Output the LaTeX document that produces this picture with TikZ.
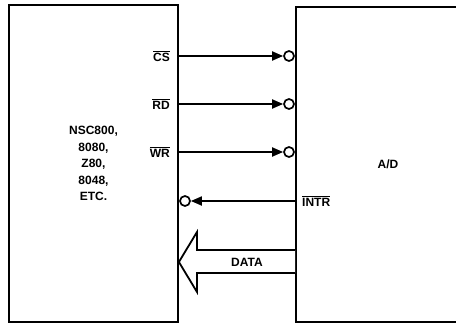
\documentclass[tikz,border=0pt]{standalone}
\usepackage{fontspec}
\setmainfont{Liberation Sans}
\usetikzlibrary{arrows.meta, positioning, calc}
\newcommand{\sigbar}[1]{$\overline{\hbox{#1}}$}
\tikzset{
    x=1pt, y=-1pt,
    box/.style={ % the two chips
        draw,
        line width=1.8pt,
        font=\bfseries\fontsize{12}{16.5}\selectfont,
        align=center
    },
    pin/.style={ % inverting bubble at a pin
        circle, draw, line width=1.7pt,
        fill=white, inner sep=0pt, minimum size=10pt
    },
    sig/.style={ % signal line
        line width=1.8pt,
        -{Triangle[length=11pt, width=9pt]}
    },
    lbl/.style={
        inner sep=1pt,
        font=\bfseries\fontsize{12}{14}\selectfont
    }
}
\begin{document}
\begin{tikzpicture}
    \useasboundingbox (0,0) rectangle (456,324);
    \node[box, minimum width=169pt, minimum height=317pt]   (cpu) at (93.5,163.5)
        {NSC800,\\8080,\\Z80,\\8048,\\ETC.};
    \node[box, minimum width=184pt, minimum height=315pt]   (adc) at (388,164.5) {A/D};
    % bubbles on the pins
    \node[pin] (cs)   at (289,56)  {};
    \node[pin] (rd)   at (289,104) {};
    \node[pin] (wr)   at (289,152) {};
    \node[pin] (intr) at (185,201) {};
    % signal names
    \node[lbl, anchor=east] (cslbl)   at (171,56)  {\sigbar{CS}};
    \node[lbl, anchor=east] (rdlbl)   at (171,104) {\sigbar{RD}};
    \node[lbl, anchor=east] (wrlbl)   at (171,152) {\sigbar{WR}};
    \node[lbl, anchor=west] (intrlbl) at (301,201) {\sigbar{INTR}};
    \draw[sig]  (cpu.east |- cs) -- (cs.west);
    \draw[sig]  (cpu.east |- rd) -- (rd.west);
    \draw[sig]  (cpu.east |- wr) -- (wr.west);
    \draw[sig]  (adc.west |- intr) -- (intr.east);
    % data bus
    \coordinate (dtip) at (cpu.east |- 0,262);
    \draw[line width=1.8pt, fill=white]
        (adc.west |- 0,250) -- (197,250) -- (197,232) -- (dtip)
        -- (197,292) -- (197,273) -- (adc.west |- 0,273);
    \node[lbl] (data) at (247,262) {DATA};
\end{tikzpicture}
\end{document}
